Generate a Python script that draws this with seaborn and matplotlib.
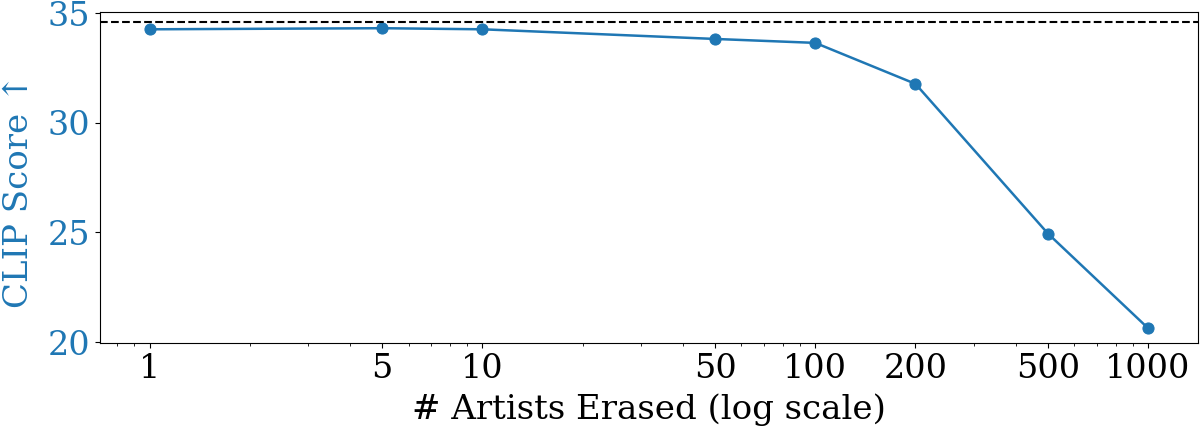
import matplotlib
matplotlib.use("Agg")
import matplotlib.pyplot as plt
import seaborn as sns
import pandas as pd
from matplotlib.ticker import FixedLocator, FixedFormatter, NullFormatter, LogLocator

artists_erased = [1, 5, 10, 50, 100, 200, 500, 1000]
clip_scores = [34.27, 34.32, 34.27, 33.83, 33.65, 31.78, 24.95, 20.63]
baseline_clip = 34.6
x_ticks = [1, 5, 10, 50, 100, 200, 500, 1000]
x_tick_labels = ["1", "5", "10", "50", "100", "200", "500", "1000"]
y_ticks = [20, 25, 30, 35]

plt.rcParams['font.family'] = ['DejaVu Serif']
blue = "#1f77b4"

df = pd.DataFrame({"n": artists_erased, "clip": clip_scores})

fig = plt.figure(figsize=(12.02, 4.36), dpi=100)
ax = fig.add_axes([0.083, 0.213, 0.9137, 0.759])

sns.lineplot(data=df, x="n", y="clip", ax=ax, color=blue, marker="o",
             markersize=8, linewidth=1.8, markeredgecolor=blue)
ax.axhline(baseline_clip, color="black", linestyle="--", linewidth=1.5)

ax.set_xscale("log")
ax.xaxis.set_major_locator(FixedLocator(x_ticks))
ax.xaxis.set_major_formatter(FixedFormatter(x_tick_labels))
ax.xaxis.set_minor_locator(LogLocator(base=10, subs=range(2, 10)))
ax.xaxis.set_minor_formatter(NullFormatter())
ax.set_ylim(19.95, 35.05)
ax.set_yticks(y_ticks)

ax.tick_params(axis="both", labelsize=24)
ax.tick_params(axis="y", labelcolor=blue)
ax.set_xlabel("# Artists Erased (log scale)", fontsize=24.5, labelpad=6)
ax.set_ylabel("CLIP Score ↑", fontsize=24.5, color=blue)
ax.yaxis.set_label_coords(-0.059, 0.46)

fig.savefig("out.png", dpi=100)
